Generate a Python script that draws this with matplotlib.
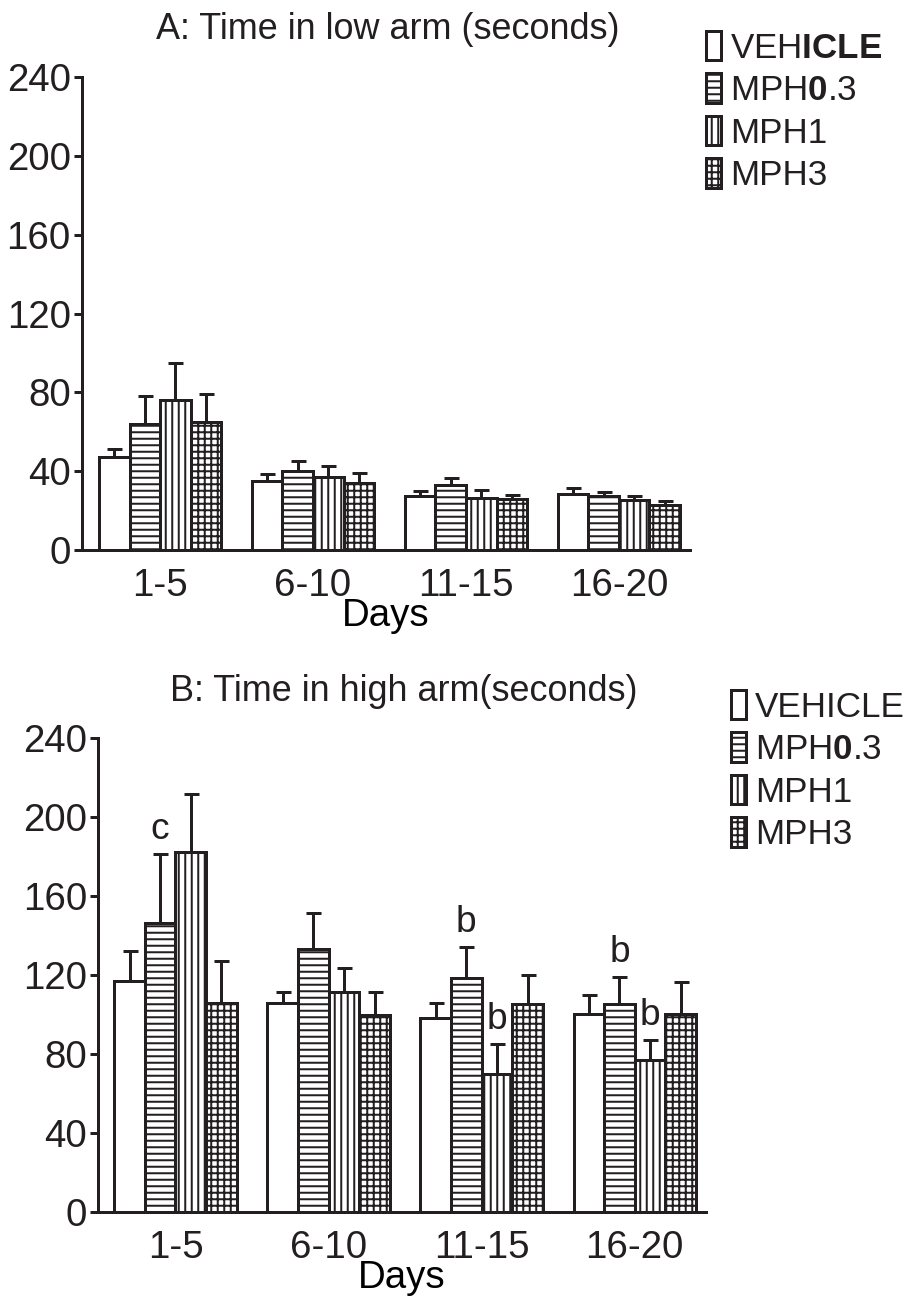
import numpy as np
import matplotlib
matplotlib.use('Agg')
import matplotlib.pyplot as plt
from matplotlib.patches import Patch

# pixel -> point helper, the hatch spacing depends on the dpi
DPI = 117
W, H = 910, 1296


def pt(px):
    return px * 72 / DPI


INK = '#231f20'
plt.rcParams['font.family'] = ['Liberation Sans', 'DejaVu Sans']
plt.rcParams['mathtext.fontset'] = 'custom'
plt.rcParams['mathtext.rm'] = 'Liberation Sans'
plt.rcParams['mathtext.bf'] = 'Liberation Sans:bold'
plt.rcParams['hatch.linewidth'] = pt(2)
plt.rcParams['text.color'] = INK

days = ['1-5', '6-10', '11-15', '16-20']
groups = ['VEHICLE', 'MPH0.3', 'MPH1', 'MPH3']
hatches = ['', '---', '|||', '+++']

# A: time in low arm (s), rows = VEHICLE, MPH0.3, MPH1, MPH3
low_mean = [[47, 35, 27.5, 28.5],
            [64, 40, 33, 27.5],
            [76, 37, 26.5, 25.5],
            [65, 34, 26, 23]]
low_sem = [[4, 3.5, 2.5, 3],
           [14, 5, 3.5, 2],
           [19, 5.5, 4, 2],
           [14, 5, 2, 2]]

# B: time in high arm (s)
high_mean = [[117, 106, 98, 100],
             [146, 133, 118.5, 105],
             [182, 111.5, 70, 77],
             [106, 99.5, 105.5, 100]]
high_sem = [[15, 5.5, 8, 10],
            [35, 18.5, 15.5, 14],
            [29.5, 12, 15, 10],
            [21, 12, 14.5, 16.5]]

# significance letters: (day block, group, letter)
high_marks = [(0, 1, 'c'), (2, 1, 'b'), (2, 2, 'b'), (3, 1, 'b'), (3, 2, 'b')]

legend_low = [r'VEH$\mathbf{ICLE}$', r'MPH$\mathbf{0}$.3', 'MPH1', 'MPH3']
legend_high = ['VEHICLE', r'MPH$\mathbf{0}$.3', 'MPH1', 'MPH3']

LW = pt(3)
TICK_FS = pt(38.5)
LETTER_FS = pt(37)
TITLE_FS = pt(36)
LEG_FS = pt(35)
WIDTH = 0.2


def draw_panel(ax, means, sems, xlim, marks=()):
    x = np.arange(len(days))
    for i in range(len(groups)):
        xs = x + (i - 1.5) * WIDTH
        ax.errorbar(xs, means[i], yerr=[np.zeros(len(days)), sems[i]], fmt='none',
                    ecolor=INK, elinewidth=LW, capsize=pt(7.5), capthick=LW, zorder=1)
        ax.bar(xs, means[i], WIDTH, facecolor='white', edgecolor=INK,
               hatch=hatches[i], linewidth=LW, zorder=2)
    for d, g, letter in marks:
        xs = d + (g - 1.5) * WIDTH
        ax.annotate(letter, (xs, means[g][d] + sems[g][d]), xytext=(0, pt(7)),
                    textcoords='offset points', ha='center', va='bottom',
                    fontsize=LETTER_FS)
    ax.set_xlim(*xlim)
    ax.set_ylim(0, 240)
    ax.set_yticks(range(0, 241, 40))
    ax.set_xticks(x, days)
    ax.set_xlabel('Days', fontsize=TICK_FS, labelpad=pt(-6))
    for s in ['top', 'right']:
        ax.spines[s].set_visible(False)
    for s in ['left', 'bottom']:
        ax.spines[s].set_linewidth(LW)
        ax.spines[s].set_color(INK)
    ax.tick_params(axis='y', length=pt(8), width=LW, pad=pt(3),
                   labelsize=TICK_FS, color=INK, labelcolor=INK)
    ax.tick_params(axis='x', length=0, pad=pt(18), labelsize=TICK_FS,
                   labelcolor=INK)


def add_legend(ax, fig, labels, left_px, top_px):
    em = LEG_FS * DPI / 72
    handles = [Patch(facecolor='white', edgecolor=INK, hatch=h, linewidth=LW)
               for h in hatches]
    ax.legend(handles, labels, loc='upper left',
              bbox_to_anchor=(left_px / W, 1 - top_px / H),
              bbox_transform=fig.transFigure, frameon=False,
              fontsize=LEG_FS, borderpad=0, borderaxespad=0,
              handlelength=15 / em, handleheight=32 / em,
              handletextpad=9 / em, labelspacing=8.7 / em)


def axes_box(left, right, bottom, top):
    return [left / W, 1 - bottom / H, (right - left) / W, (bottom - top) / H]


fig = plt.figure(figsize=(W / DPI, H / DPI), dpi=DPI)

ax1 = fig.add_axes(axes_box(81.7, 690, 550, 77))
draw_panel(ax1, low_mean, low_sem, (-0.513, 3.465))
add_legend(ax1, fig, legend_low, 706, 31)
fig.text(388 / W, 1 - 39 / H, 'A: Time in low arm (seconds)', ha='center',
         va='baseline', fontsize=TITLE_FS)

ax2 = fig.add_axes(axes_box(98.3, 706, 1212, 737.7))
draw_panel(ax2, high_mean, high_sem, (-0.504, 3.465), high_marks)
add_legend(ax2, fig, legend_high, 731, 690)
fig.text(404 / W, 1 - 701 / H, 'B: Time in high arm(seconds)', ha='center',
         va='baseline', fontsize=TITLE_FS)

fig.savefig('out.png', dpi=DPI, facecolor='white')
